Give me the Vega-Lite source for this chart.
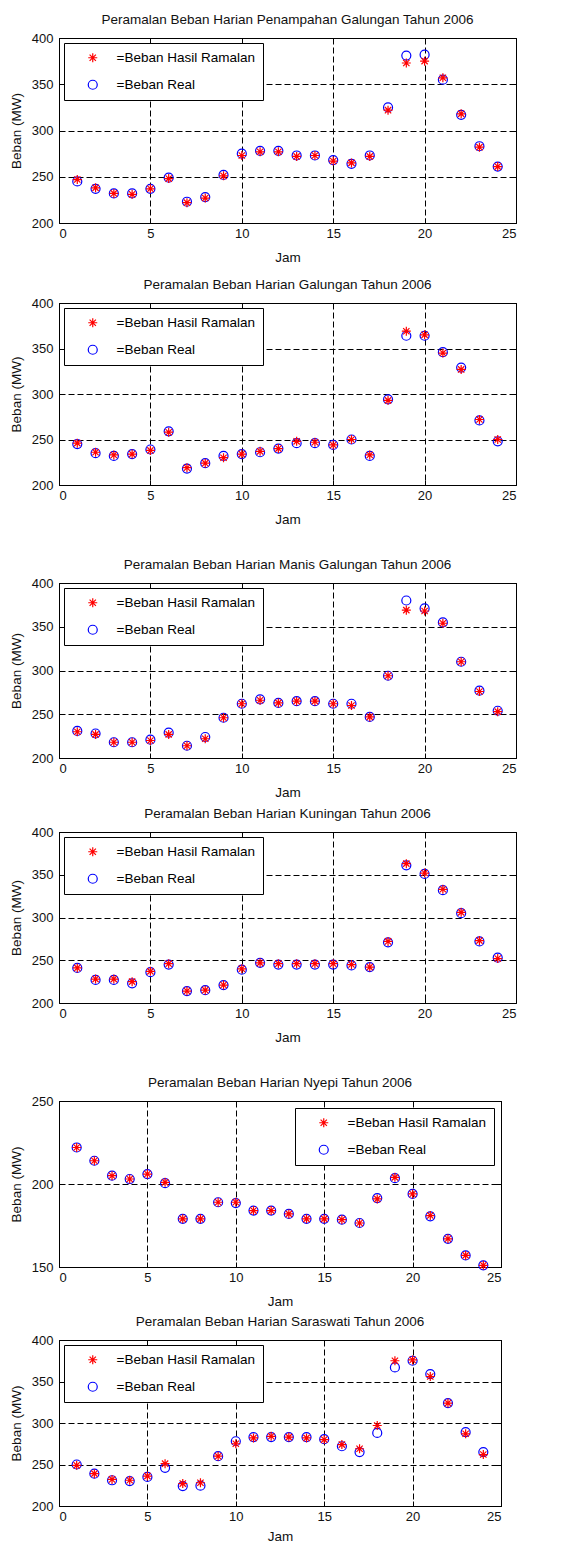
{
  "$schema": "https://vega.github.io/schema/vega-lite/v6.json",
  "padding": {"left": 8, "top": 12, "right": 5, "bottom": 0},
  "background": "#ffffff",
  "datasets": {
    "p1": [
      {"jam":1,"ramalan":247,"real":245},{"jam":2,"ramalan":238,"real":237},{"jam":3,"ramalan":232,"real":232},{"jam":4,"ramalan":231,"real":232},
      {"jam":5,"ramalan":237,"real":237},{"jam":6,"ramalan":248,"real":249},{"jam":7,"ramalan":222,"real":223},{"jam":8,"ramalan":227,"real":228},
      {"jam":9,"ramalan":251,"real":252},{"jam":10,"ramalan":273,"real":275},{"jam":11,"ramalan":277,"real":278},{"jam":12,"ramalan":277,"real":278},
      {"jam":13,"ramalan":272,"real":273},{"jam":14,"ramalan":273,"real":273},{"jam":15,"ramalan":267,"real":268},{"jam":16,"ramalan":265,"real":264},
      {"jam":17,"ramalan":272,"real":273},{"jam":18,"ramalan":322,"real":325},{"jam":19,"ramalan":373,"real":381},{"jam":20,"ramalan":375,"real":382},
      {"jam":21,"ramalan":357,"real":355},{"jam":22,"ramalan":318,"real":317},{"jam":23,"ramalan":282,"real":283},{"jam":24,"ramalan":261,"real":261}
    ],
    "p2": [
      {"jam":1,"ramalan":246,"real":245},{"jam":2,"ramalan":236,"real":235},{"jam":3,"ramalan":233,"real":232},{"jam":4,"ramalan":234,"real":234},
      {"jam":5,"ramalan":238,"real":239},{"jam":6,"ramalan":258,"real":259},{"jam":7,"ramalan":219,"real":218},{"jam":8,"ramalan":224,"real":224},
      {"jam":9,"ramalan":230,"real":232},{"jam":10,"ramalan":234,"real":234},{"jam":11,"ramalan":237,"real":236},{"jam":12,"ramalan":240,"real":240},
      {"jam":13,"ramalan":248,"real":246},{"jam":14,"ramalan":247,"real":246},{"jam":15,"ramalan":244,"real":244},{"jam":16,"ramalan":250,"real":250},
      {"jam":17,"ramalan":233,"real":232},{"jam":18,"ramalan":293,"real":294},{"jam":19,"ramalan":369,"real":364},{"jam":20,"ramalan":365,"real":364},
      {"jam":21,"ramalan":345,"real":346},{"jam":22,"ramalan":327,"real":329},{"jam":23,"ramalan":272,"real":271},{"jam":24,"ramalan":250,"real":248}
    ],
    "p3": [
      {"jam":1,"ramalan":230,"real":231},{"jam":2,"ramalan":227,"real":228},{"jam":3,"ramalan":218,"real":218},{"jam":4,"ramalan":218,"real":218},
      {"jam":5,"ramalan":220,"real":221},{"jam":6,"ramalan":227,"real":229},{"jam":7,"ramalan":214,"real":214},{"jam":8,"ramalan":222,"real":224},
      {"jam":9,"ramalan":246,"real":246},{"jam":10,"ramalan":262,"real":262},{"jam":11,"ramalan":266,"real":267},{"jam":12,"ramalan":263,"real":263},
      {"jam":13,"ramalan":265,"real":265},{"jam":14,"ramalan":265,"real":265},{"jam":15,"ramalan":262,"real":262},{"jam":16,"ramalan":260,"real":262},
      {"jam":17,"ramalan":247,"real":247},{"jam":18,"ramalan":294,"real":294},{"jam":19,"ramalan":369,"real":380},{"jam":20,"ramalan":368,"real":371},
      {"jam":21,"ramalan":354,"real":355},{"jam":22,"ramalan":310,"real":310},{"jam":23,"ramalan":276,"real":277},{"jam":24,"ramalan":253,"real":254}
    ],
    "p4": [
      {"jam":1,"ramalan":241,"real":241},{"jam":2,"ramalan":228,"real":227},{"jam":3,"ramalan":228,"real":227},{"jam":4,"ramalan":225,"real":223},
      {"jam":5,"ramalan":237,"real":236},{"jam":6,"ramalan":246,"real":245},{"jam":7,"ramalan":214,"real":214},{"jam":8,"ramalan":215,"real":215},
      {"jam":9,"ramalan":221,"real":221},{"jam":10,"ramalan":240,"real":239},{"jam":11,"ramalan":247,"real":247},{"jam":12,"ramalan":246,"real":245},
      {"jam":13,"ramalan":246,"real":245},{"jam":14,"ramalan":246,"real":245},{"jam":15,"ramalan":246,"real":245},{"jam":16,"ramalan":245,"real":244},
      {"jam":17,"ramalan":242,"real":242},{"jam":18,"ramalan":272,"real":271},{"jam":19,"ramalan":363,"real":361},{"jam":20,"ramalan":352,"real":351},
      {"jam":21,"ramalan":333,"real":332},{"jam":22,"ramalan":306,"real":305},{"jam":23,"ramalan":273,"real":272},{"jam":24,"ramalan":252,"real":253}
    ],
    "p5": [
      {"jam":1,"ramalan":222,"real":222},{"jam":2,"ramalan":214,"real":214},{"jam":3,"ramalan":205,"real":205},{"jam":4,"ramalan":203,"real":203},
      {"jam":5,"ramalan":206,"real":206},{"jam":6,"ramalan":201,"real":200.5},{"jam":7,"ramalan":179,"real":179},{"jam":8,"ramalan":179,"real":179},
      {"jam":9,"ramalan":189,"real":189},{"jam":10,"ramalan":189,"real":188.5},{"jam":11,"ramalan":184,"real":184},{"jam":12,"ramalan":184,"real":184},
      {"jam":13,"ramalan":182,"real":182},{"jam":14,"ramalan":179,"real":179},{"jam":15,"ramalan":179,"real":179},{"jam":16,"ramalan":178.5,"real":178.5},
      {"jam":17,"ramalan":176.5,"real":176.5},{"jam":18,"ramalan":191,"real":191.5},{"jam":19,"ramalan":204,"real":203.5},{"jam":20,"ramalan":194,"real":194},
      {"jam":21,"ramalan":181,"real":180.5},{"jam":22,"ramalan":167,"real":167},{"jam":23,"ramalan":157,"real":157},{"jam":24,"ramalan":151,"real":151}
    ],
    "p6": [
      {"jam":1,"ramalan":249,"real":250},{"jam":2,"ramalan":239,"real":239},{"jam":3,"ramalan":232,"real":231},{"jam":4,"ramalan":231,"real":230},
      {"jam":5,"ramalan":236,"real":235},{"jam":6,"ramalan":251,"real":246},{"jam":7,"ramalan":227,"real":224},{"jam":8,"ramalan":228,"real":224.5},
      {"jam":9,"ramalan":260,"real":260},{"jam":10,"ramalan":275,"real":278},{"jam":11,"ramalan":282,"real":283},{"jam":12,"ramalan":284,"real":283},
      {"jam":13,"ramalan":283,"real":283},{"jam":14,"ramalan":282,"real":283},{"jam":15,"ramalan":280,"real":280.5},{"jam":16,"ramalan":274,"real":272},
      {"jam":17,"ramalan":269,"real":265},{"jam":18,"ramalan":297,"real":288},{"jam":19,"ramalan":375,"real":367},{"jam":20,"ramalan":376,"real":375},
      {"jam":21,"ramalan":356,"real":359},{"jam":22,"ramalan":324,"real":324},{"jam":23,"ramalan":287,"real":289},{"jam":24,"ramalan":262,"real":265}
    ]
  },
  "spacing": 31,
  "resolve": {"scale": {"x": "independent", "y": "independent", "color": "independent", "shape": "independent"}, "legend": {"color": "independent", "shape": "independent"}},
  "vconcat": [
    {
      "spacing": 13,
      "resolve": {"scale": {"x": "independent", "y": "independent", "color": "independent", "shape": "independent"}, "legend": {"color": "independent", "shape": "independent"}},
      "vconcat": [
        {
          "width": 457, "height": 185,
          "title": "Peramalan Beban Harian Penampahan Galungan Tahun 2006",
          "data": {"name": "p1"},
          "transform": [{"fold": ["real", "ramalan"], "as": ["series", "beban"]}],
          "resolve": {"axis": {"x": "independent", "y": "independent"}},
          "layer": [
            {
              "mark": {"type": "point", "filled": false, "strokeWidth": 1.2, "size": 81, "opacity": 1},
              "encoding": {
                "x": {"field": "jam", "type": "quantitative", "scale": {"domain": [0, 25], "nice": false}, "axis": {"values": [0, 5, 10, 15, 20, 25], "title": "Jam"}},
                "y": {"field": "beban", "type": "quantitative", "scale": {"domain": [200, 400], "nice": false, "zero": false}, "axis": {"values": [200, 250, 300, 350, 400], "title": "Beban (MW)"}},
                "shape": {"field": "series", "type": "nominal", "scale": {"domain": ["ramalan", "real"], "range": ["M-1,0L1,0M0,-1L0,1M-0.7,-0.7L0.7,0.7M-0.7,0.7L0.7,-0.7", "circle"]}, "legend": {"orient": "top-left", "offset": 5, "title": null, "labelExpr": "datum.label == 'ramalan' ? '=Beban Hasil Ramalan' : '=Beban Real'"}},
                "color": {"field": "series", "type": "nominal", "scale": {"domain": ["ramalan", "real"], "range": ["#ff0000", "#0000ff"]}, "legend": {"orient": "top-left", "offset": 5, "title": null, "labelExpr": "datum.label == 'ramalan' ? '=Beban Hasil Ramalan' : '=Beban Real'"}}
              }
            },
            {
              "mark": {"type": "point", "opacity": 0},
              "encoding": {
                "x": {"field": "jam", "type": "quantitative", "axis": {"orient": "top", "values": [0, 5, 10, 15, 20, 25], "labels": false, "title": null, "grid": false}},
                "y": {"field": "beban", "type": "quantitative", "axis": {"orient": "right", "values": [200, 250, 300, 350, 400], "labels": false, "title": null, "grid": false}}
              }
            }
          ]
        },
        {
          "width": 457, "height": 182,
          "title": "Peramalan Beban Harian Galungan Tahun 2006",
          "data": {"name": "p2"},
          "transform": [{"fold": ["real", "ramalan"], "as": ["series", "beban"]}],
          "resolve": {"axis": {"x": "independent", "y": "independent"}},
          "layer": [
            {
              "mark": {"type": "point", "filled": false, "strokeWidth": 1.2, "size": 81, "opacity": 1},
              "encoding": {
                "x": {"field": "jam", "type": "quantitative", "scale": {"domain": [0, 25], "nice": false}, "axis": {"values": [0, 5, 10, 15, 20, 25], "title": "Jam"}},
                "y": {"field": "beban", "type": "quantitative", "scale": {"domain": [200, 400], "nice": false, "zero": false}, "axis": {"values": [200, 250, 300, 350, 400], "title": "Beban (MW)"}},
                "shape": {"field": "series", "type": "nominal", "scale": {"domain": ["ramalan", "real"], "range": ["M-1,0L1,0M0,-1L0,1M-0.7,-0.7L0.7,0.7M-0.7,0.7L0.7,-0.7", "circle"]}, "legend": {"orient": "top-left", "offset": 5, "title": null, "labelExpr": "datum.label == 'ramalan' ? '=Beban Hasil Ramalan' : '=Beban Real'"}},
                "color": {"field": "series", "type": "nominal", "scale": {"domain": ["ramalan", "real"], "range": ["#ff0000", "#0000ff"]}, "legend": {"orient": "top-left", "offset": 5, "title": null, "labelExpr": "datum.label == 'ramalan' ? '=Beban Hasil Ramalan' : '=Beban Real'"}}
              }
            },
            {
              "mark": {"type": "point", "opacity": 0},
              "encoding": {
                "x": {"field": "jam", "type": "quantitative", "axis": {"orient": "top", "values": [0, 5, 10, 15, 20, 25], "labels": false, "title": null, "grid": false}},
                "y": {"field": "beban", "type": "quantitative", "axis": {"orient": "right", "values": [200, 250, 300, 350, 400], "labels": false, "title": null, "grid": false}}
              }
            }
          ]
        }
      ]
    },
    {
      "spacing": 7,
      "resolve": {"scale": {"x": "independent", "y": "independent", "color": "independent", "shape": "independent"}, "legend": {"color": "independent", "shape": "independent"}},
      "vconcat": [
        {
          "width": 457, "height": 175,
          "title": "Peramalan Beban Harian Manis Galungan Tahun 2006",
          "data": {"name": "p3"},
          "transform": [{"fold": ["real", "ramalan"], "as": ["series", "beban"]}],
          "resolve": {"axis": {"x": "independent", "y": "independent"}},
          "layer": [
            {
              "mark": {"type": "point", "filled": false, "strokeWidth": 1.2, "size": 81, "opacity": 1},
              "encoding": {
                "x": {"field": "jam", "type": "quantitative", "scale": {"domain": [0, 25], "nice": false}, "axis": {"values": [0, 5, 10, 15, 20, 25], "title": "Jam"}},
                "y": {"field": "beban", "type": "quantitative", "scale": {"domain": [200, 400], "nice": false, "zero": false}, "axis": {"values": [200, 250, 300, 350, 400], "title": "Beban (MW)"}},
                "shape": {"field": "series", "type": "nominal", "scale": {"domain": ["ramalan", "real"], "range": ["M-1,0L1,0M0,-1L0,1M-0.7,-0.7L0.7,0.7M-0.7,0.7L0.7,-0.7", "circle"]}, "legend": {"orient": "top-left", "offset": 5, "title": null, "labelExpr": "datum.label == 'ramalan' ? '=Beban Hasil Ramalan' : '=Beban Real'"}},
                "color": {"field": "series", "type": "nominal", "scale": {"domain": ["ramalan", "real"], "range": ["#ff0000", "#0000ff"]}, "legend": {"orient": "top-left", "offset": 5, "title": null, "labelExpr": "datum.label == 'ramalan' ? '=Beban Hasil Ramalan' : '=Beban Real'"}}
              }
            },
            {
              "mark": {"type": "point", "opacity": 0},
              "encoding": {
                "x": {"field": "jam", "type": "quantitative", "axis": {"orient": "top", "values": [0, 5, 10, 15, 20, 25], "labels": false, "title": null, "grid": false}},
                "y": {"field": "beban", "type": "quantitative", "axis": {"orient": "right", "values": [200, 250, 300, 350, 400], "labels": false, "title": null, "grid": false}}
              }
            }
          ]
        },
        {
          "width": 457, "height": 171,
          "title": "Peramalan Beban Harian Kuningan Tahun 2006",
          "data": {"name": "p4"},
          "transform": [{"fold": ["real", "ramalan"], "as": ["series", "beban"]}],
          "resolve": {"axis": {"x": "independent", "y": "independent"}},
          "layer": [
            {
              "mark": {"type": "point", "filled": false, "strokeWidth": 1.2, "size": 81, "opacity": 1},
              "encoding": {
                "x": {"field": "jam", "type": "quantitative", "scale": {"domain": [0, 25], "nice": false}, "axis": {"values": [0, 5, 10, 15, 20, 25], "title": "Jam"}},
                "y": {"field": "beban", "type": "quantitative", "scale": {"domain": [200, 400], "nice": false, "zero": false}, "axis": {"values": [200, 250, 300, 350, 400], "title": "Beban (MW)"}},
                "shape": {"field": "series", "type": "nominal", "scale": {"domain": ["ramalan", "real"], "range": ["M-1,0L1,0M0,-1L0,1M-0.7,-0.7L0.7,0.7M-0.7,0.7L0.7,-0.7", "circle"]}, "legend": {"orient": "top-left", "offset": 5, "title": null, "labelExpr": "datum.label == 'ramalan' ? '=Beban Hasil Ramalan' : '=Beban Real'"}},
                "color": {"field": "series", "type": "nominal", "scale": {"domain": ["ramalan", "real"], "range": ["#ff0000", "#0000ff"]}, "legend": {"orient": "top-left", "offset": 5, "title": null, "labelExpr": "datum.label == 'ramalan' ? '=Beban Hasil Ramalan' : '=Beban Real'"}}
              }
            },
            {
              "mark": {"type": "point", "opacity": 0},
              "encoding": {
                "x": {"field": "jam", "type": "quantitative", "axis": {"orient": "top", "values": [0, 5, 10, 15, 20, 25], "labels": false, "title": null, "grid": false}},
                "y": {"field": "beban", "type": "quantitative", "axis": {"orient": "right", "values": [200, 250, 300, 350, 400], "labels": false, "title": null, "grid": false}}
              }
            }
          ]
        }
      ]
    },
    {
      "spacing": 6,
      "resolve": {"scale": {"x": "independent", "y": "independent", "color": "independent", "shape": "independent"}, "legend": {"color": "independent", "shape": "independent"}},
      "vconcat": [
        {
          "width": 442, "height": 166,
          "title": "Peramalan Beban Harian Nyepi Tahun 2006",
          "data": {"name": "p5"},
          "transform": [{"fold": ["real", "ramalan"], "as": ["series", "beban"]}],
          "resolve": {"axis": {"x": "independent", "y": "independent"}},
          "layer": [
            {
              "mark": {"type": "point", "filled": false, "strokeWidth": 1.2, "size": 81, "opacity": 1},
              "encoding": {
                "x": {"field": "jam", "type": "quantitative", "scale": {"domain": [0, 25], "nice": false}, "axis": {"values": [0, 5, 10, 15, 20, 25], "title": "Jam"}},
                "y": {"field": "beban", "type": "quantitative", "scale": {"domain": [150, 250], "nice": false, "zero": false}, "axis": {"values": [150, 200, 250], "title": "Beban (MW)"}},
                "shape": {"field": "series", "type": "nominal", "scale": {"domain": ["ramalan", "real"], "range": ["M-1,0L1,0M0,-1L0,1M-0.7,-0.7L0.7,0.7M-0.7,0.7L0.7,-0.7", "circle"]}, "legend": {"orient": "top-right", "offset": 7, "title": null, "labelExpr": "datum.label == 'ramalan' ? '=Beban Hasil Ramalan' : '=Beban Real'"}},
                "color": {"field": "series", "type": "nominal", "scale": {"domain": ["ramalan", "real"], "range": ["#ff0000", "#0000ff"]}, "legend": {"orient": "top-right", "offset": 7, "title": null, "labelExpr": "datum.label == 'ramalan' ? '=Beban Hasil Ramalan' : '=Beban Real'"}}
              }
            },
            {
              "mark": {"type": "point", "opacity": 0},
              "encoding": {
                "x": {"field": "jam", "type": "quantitative", "axis": {"orient": "top", "values": [0, 5, 10, 15, 20, 25], "labels": false, "title": null, "grid": false}},
                "y": {"field": "beban", "type": "quantitative", "axis": {"orient": "right", "values": [150, 200, 250], "labels": false, "title": null, "grid": false}}
              }
            }
          ]
        },
        {
          "width": 442, "height": 166,
          "title": "Peramalan Beban Harian Saraswati Tahun 2006",
          "data": {"name": "p6"},
          "transform": [{"fold": ["real", "ramalan"], "as": ["series", "beban"]}],
          "resolve": {"axis": {"x": "independent", "y": "independent"}},
          "layer": [
            {
              "mark": {"type": "point", "filled": false, "strokeWidth": 1.2, "size": 81, "opacity": 1},
              "encoding": {
                "x": {"field": "jam", "type": "quantitative", "scale": {"domain": [0, 25], "nice": false}, "axis": {"values": [0, 5, 10, 15, 20, 25], "title": "Jam", "titlePadding": 6}},
                "y": {"field": "beban", "type": "quantitative", "scale": {"domain": [200, 400], "nice": false, "zero": false}, "axis": {"values": [200, 250, 300, 350, 400], "title": "Beban (MW)"}},
                "shape": {"field": "series", "type": "nominal", "scale": {"domain": ["ramalan", "real"], "range": ["M-1,0L1,0M0,-1L0,1M-0.7,-0.7L0.7,0.7M-0.7,0.7L0.7,-0.7", "circle"]}, "legend": {"orient": "top-left", "offset": 5, "title": null, "labelExpr": "datum.label == 'ramalan' ? '=Beban Hasil Ramalan' : '=Beban Real'"}},
                "color": {"field": "series", "type": "nominal", "scale": {"domain": ["ramalan", "real"], "range": ["#ff0000", "#0000ff"]}, "legend": {"orient": "top-left", "offset": 5, "title": null, "labelExpr": "datum.label == 'ramalan' ? '=Beban Hasil Ramalan' : '=Beban Real'"}}
              }
            },
            {
              "mark": {"type": "point", "opacity": 0},
              "encoding": {
                "x": {"field": "jam", "type": "quantitative", "axis": {"orient": "top", "values": [0, 5, 10, 15, 20, 25], "labels": false, "title": null, "grid": false}},
                "y": {"field": "beban", "type": "quantitative", "axis": {"orient": "right", "values": [200, 250, 300, 350, 400], "labels": false, "title": null, "grid": false}}
              }
            }
          ]
        }
      ]
    }
  ],
  "config": {
    "font": "Liberation Sans",
    "view": {"stroke": "#000000", "strokeWidth": 1},
    "axis": {"grid": true, "gridColor": "#000000", "gridDash": [6, 3], "gridOpacity": 1, "gridWidth": 1, "domain": false, "ticks": true, "tickSize": -5, "tickColor": "#000000", "tickWidth": 1, "labelFontSize": 13, "labelColor": "#111111", "titleFontSize": 13.5, "titleFontWeight": "normal", "titleColor": "#111111", "labelPadding": 9},
    "axisY": {"labelPadding": 11, "titlePadding": 8},
    "axisX": {"titlePadding": 10},
    "title": {"fontSize": 13.5, "fontWeight": "normal", "color": "#111111", "offset": 6},
    "legend": {"strokeColor": "#000000", "fillColor": "#ffffff", "padding": 8, "labelFontSize": 13.5, "labelColor": "#000000", "symbolStrokeWidth": 1.2, "symbolSize": 81, "rowPadding": 12, "symbolOffset": 14, "labelOffset": 17, "cornerRadius": 0}
  }
}
